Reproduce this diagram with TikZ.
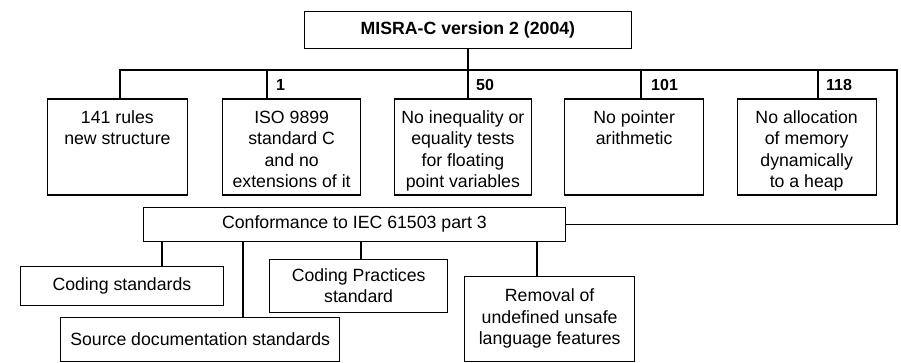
\documentclass[tikz,border=0pt]{standalone}
\usepackage{fontspec}
\setmainfont{Liberation Sans}
\begin{document}
\begin{tikzpicture}[x=1pt,y=-1pt,
  box/.style={draw, line width=1.3pt, inner sep=0pt, anchor=north west,
    font=\fontsize{17.7}{21.5}\selectfont},
  lowbox/.style={box, align=center},
  wire/.style={line width=1.3pt},
  lbl/.style={font=\fontsize{16}{18}\selectfont\bfseries, anchor=west, inner sep=0pt}]
\useasboundingbox (0,0) rectangle (901,363);

% top box
\node[box, minimum width=327.5pt, minimum height=37pt, font=\fontsize{17.7}{21.5}\selectfont\bfseries]
  (top) at (303.5,11) {MISRA-C version 2 (2004)};

% row of rule boxes
\node[box, minimum width=140.5pt, minimum height=96pt] (b1) at (46.5,98.5)
  {\parbox[c][96pt][t]{136pt}{\centering\rule{0pt}{24pt}141 rules\\new structure}};
\node[box, minimum width=138pt, minimum height=96pt] (b2) at (222,98.5)
  {\parbox[c][96pt][t]{134pt}{\centering\rule{0pt}{24pt}ISO 9899\\standard C\\and no\\extensions of it}};
\node[box, minimum width=136.5pt, minimum height=96pt] (b3) at (394,98.5)
  {\parbox[c][96pt][t]{132pt}{\centering\rule{0pt}{24pt}No inequality or\\equality tests\\for floating\\point variables}};
\node[box, minimum width=139pt, minimum height=96pt] (b4) at (564,98.5)
  {\parbox[c][96pt][t]{135pt}{\centering\rule{0pt}{24pt}No pointer\\arithmetic}};
\node[box, minimum width=139pt, minimum height=96pt] (b5) at (736.5,98.5)
  {\parbox[c][96pt][t]{135pt}{\centering\rule{0pt}{24pt}No allocation\\of memory\\dynamically\\to a heap}};

% conformance box
\node[box, minimum width=421.5pt, minimum height=33.5pt] (conf) at (143,207)
  {Conformance to IEC 61503 part 3};

% lower boxes
\node[lowbox, minimum width=202.5pt, minimum height=39pt] (cs) at (20,265.5) {Coding standards};
\node[lowbox, minimum width=178pt, minimum height=52.5pt] (cp) at (269,259) {Coding Practices\\standard};
\node[lowbox, minimum width=279pt, minimum height=44pt] (sd) at (60,317) {Source documentation standards};
\node[lowbox, minimum width=170pt, minimum height=85.5pt] (rm) at (464,275.5)
  {Removal of\\undefined unsafe\\language features};

% bar coordinates
\coordinate (barL) at (120,70);
\coordinate (barR) at (897,70);
\coordinate (s2) at (267,70);
\coordinate (s4) at (641,70);
\coordinate (s5) at (818,70);

% connectors top part
\draw[wire] (top.south) -- (top.south |- b3.north);
\draw[wire] (barL |- b1.north) -- (barL) -- (barR) |- (conf.east);
\draw[wire] (s2) -- (s2 |- b2.north);
\draw[wire] (s4) -- (s4 |- b4.north);
\draw[wire] (s5) -- (s5 |- b5.north);

% number labels
\node[lbl] (n1) at (276,84.5) {1};
\node[lbl] (n50) at (476,84.5) {50};
\node[lbl] (n101) at (651,84.5) {101};
\node[lbl] (n118) at (826,84.5) {118};

% lower connectors
\draw[wire] (162,0 |- conf.south) -- (162,0 |- cs.north);
\draw[wire] (243,0 |- conf.south) -- (243,0 |- sd.north);
\draw[wire] (361,0 |- conf.south) -- (361,0 |- cp.north);
\draw[wire] (537,0 |- conf.south) -- (537,0 |- rm.north);
\end{tikzpicture}
\end{document}
